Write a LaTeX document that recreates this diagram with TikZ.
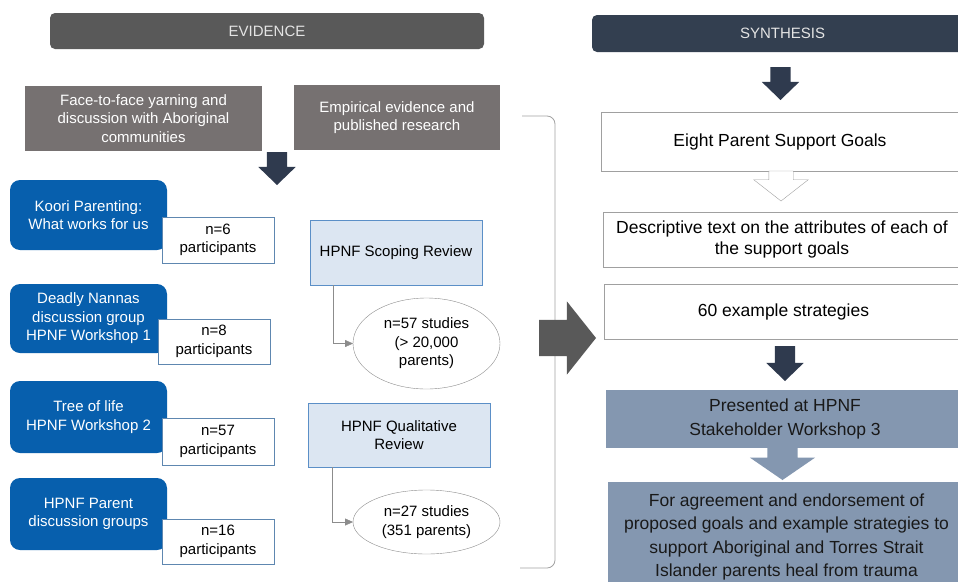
\documentclass[tikz,border=0pt]{standalone}
\usepackage{fontspec}
\setmainfont{Liberation Sans}
\usetikzlibrary{shapes.geometric,shapes.arrows,arrows.meta}
\definecolor{evgray}{HTML}{595959}
\definecolor{synnavy}{HTML}{333F50}
\definecolor{bartext}{HTML}{E4E4E4}
\definecolor{srcgray}{HTML}{767171}
\definecolor{grpblue}{HTML}{075FAD}
\definecolor{nline}{HTML}{5E87B0}
\definecolor{revfill}{HTML}{DCE6F2}
\definecolor{revline}{HTML}{5B8FC7}
\definecolor{ellline}{HTML}{8C8C8C}
\definecolor{goalline}{HTML}{A0A0A0}
\definecolor{stagefill}{HTML}{8497B0}
\definecolor{arrnavy}{HTML}{2F3A4E}
\begin{document}
\begin{tikzpicture}[x=1pt,y=-1pt,
  every node/.style={outer sep=0pt,inner sep=0pt},
  small/.style={font=\fontsize{15}{18.5}\selectfont},
  big/.style={font=\fontsize{17.5}{21}\selectfont},
  bar/.style={rectangle,rounded corners=5pt,text=bartext,small},
  src/.style={rectangle,fill=srcgray,text=white,align=center,small},
  grp/.style={rectangle,rounded corners=10pt,fill=grpblue,text=white,align=center,minimum width=157,small},
  nbox/.style={rectangle,draw=nline,fill=white,align=center,minimum width=112,small},
  review/.style={rectangle,draw=revline,fill=revfill,align=center,small},
  study/.style={ellipse,draw=ellline,fill=white,align=center,minimum width=147,small},
  goal/.style={rectangle,draw=goalline,fill=white,align=center,minimum width=358,big},
  stage/.style={rectangle,fill=stagefill,text=black!90,align=center,minimum width=358,font=\fontsize{17.5}{23.5}\selectfont},
  blockarr/.style={single arrow,anchor=tail,inner xsep=0pt,single arrow head indent=0pt},
  darr/.style={blockarr,fill=arrnavy,rotate=-90,minimum height=33,minimum width=37,inner ysep=10pt,single arrow head extend=8.5pt,single arrow tip angle=92},
  conn/.style={draw=ellline,-{Triangle[length=8pt,width=7pt]}}
]
\useasboundingbox (0,0) rectangle (958,581);
\fill[white] (0,0) rectangle (958,581);
\node[bar,fill=evgray,minimum width=434,minimum height=36] (ev) at (267,31) {EVIDENCE};
\node[bar,fill=synnavy,minimum width=384,minimum height=37] (syn) at (784,33.5) {\hspace*{-3pt}SYNTHESIS};
\node[src,minimum width=237,minimum height=65] (face) at (143.5,118.5) {Face-to-face yarning and\\discussion with Aboriginal\\communities};
\node[src,minimum width=206,minimum height=65] (emp) at (397,117.5) {Empirical evidence and\\published research};
\node[darr] (ar1) at (277,152) {};
\node[grp,minimum height=70] (koori) at (88.5,215) {Koori Parenting:\\What works for us};
\node[grp,minimum height=69] (nannas) at (88.5,318.5) {Deadly Nannas\\discussion group\\HPNF Workshop 1};
\node[grp,minimum height=72] (tree) at (88.5,417) {Tree of life\\HPNF Workshop 2};
\node[grp,minimum height=72] (parent) at (88.5,514) {HPNF Parent\\discussion groups};
\node[nbox,minimum height=46] (n6) at (218,240) {n=6\\participants};
\node[nbox,minimum height=45] (n8) at (214,341.5) {n=8\\participants};
\node[nbox,minimum height=47] (n57) at (218,441.5) {n=57\\participants};
\node[nbox,minimum height=45] (n16) at (218,541.5) {n=16\\participants};
\node[review,minimum width=172,minimum height=65] (scoping) at (396,252.5) {HPNF Scoping Review};
\node[review,minimum width=182,minimum height=64] (qual) at (399,435) {HPNF Qualitative\\Review};
\node[study,minimum height=91] (s57) at (426.5,343.5) {n=57 studies\\(> 20,000\\parents)};
\node[study,minimum height=64] (s27) at (426.5,522) {n=27 studies\\(351 parents)};
\draw[conn] ([xshift=23pt]scoping.south west) |- (s57);
\draw[conn] ([xshift=24pt]qual.south west) |- (s27);
\draw[ellline!80,line width=0.8pt,rounded corners=8pt] (522,116) -- (555,116) -- (555,568) -- (520,568);
\node[blockarr,fill=evgray,minimum height=57,minimum width=73,inner ysep=18pt,single arrow head extend=18.5pt,single arrow tip angle=103] (bigarr) at (539,338) {};
\node[darr] (ar2) at (780.5,67) {};
\node[goal,minimum height=59] (goals) at (780,141.5) {Eight Parent Support Goals};
\node[blockarr,draw=goalline,fill=white,rotate=-90,minimum height=30,minimum width=54,inner ysep=12pt,single arrow head extend=15pt,single arrow tip angle=104] (ar3) at (781,171) {};
\node[goal,minimum height=55] (desc) at (782,239.5) {Descriptive text on the attributes of each of\\the support goals};
\node[goal,minimum height=55] (strat) at (783.5,311.5) {60 example strategies};
\node[darr,minimum height=35] (ar4) at (785,346) {};
\node[stage,minimum height=58] (pres) at (785,419) {Presented at HPNF\\Stakeholder Workshop 3};
\node[blockarr,fill=stagefill,rotate=-90,minimum height=32,minimum width=65,inner ysep=15pt,single arrow head extend=17.5pt,single arrow tip angle=111] (ar5) at (782.5,448) {};
\node[stage,minimum width=357,minimum height=110] (agree) at (786.5,537) {For agreement and endorsement of\\proposed goals and example strategies to\\support Aboriginal and Torres Strait\\Islander parents heal from trauma};
\end{tikzpicture}
\end{document}
